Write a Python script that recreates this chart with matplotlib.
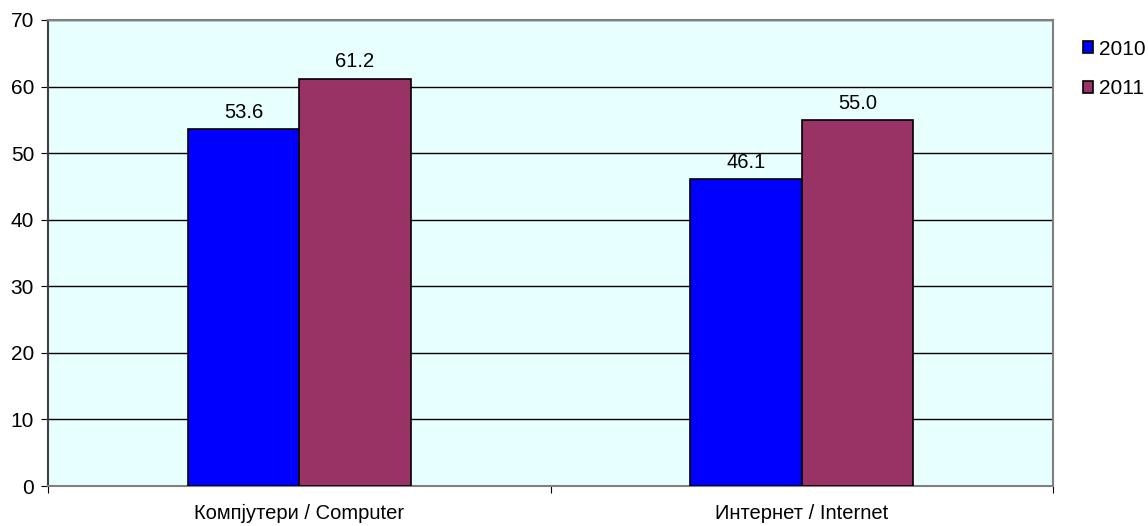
import matplotlib.pyplot as plt
import numpy as np

categories = ['Компјутери / Computer', 'Интернет / Internet']
years = ['2010', '2011']
vals_2010 = [53.6, 46.1]
vals_2011 = [61.2, 55.0]
colors = ['#0000FF', '#993366']

plt.rcParams['font.family'] = ['Liberation Sans', 'DejaVu Sans']

fig = plt.figure(figsize=(11.48, 5.26), dpi=100)
ax = fig.add_axes([0.0418, 0.076, 0.8755, 0.886])
ax.set_facecolor('#E8FFFF')

x = np.arange(len(categories))
w = 0.222
b1 = ax.bar(x - w / 2, vals_2010, w, color=colors[0], edgecolor='black', linewidth=1.2, label=years[0], zorder=3)
b2 = ax.bar(x + w / 2, vals_2011, w, color=colors[1], edgecolor='black', linewidth=1.2, label=years[1], zorder=3)

for bars, vals in ((b1, vals_2010), (b2, vals_2011)):
    for r, v in zip(bars, vals):
        ax.text(r.get_x() + r.get_width() / 2, v + 2.5, f'{v:.1f}', ha='center', va='center', fontsize=14.5)

ax.set_ylim(0, 70)
ax.set_xlim(-0.5, 1.5)
ax.set_yticks(range(0, 71, 10))
ax.yaxis.grid(True, color='black', linewidth=1)
ax.set_axisbelow(True)

# ticks at category boundaries, labels at centres
ax.set_xticks([-0.5, 0.5, 1.5])
ax.set_xticklabels([])
ax.set_xticks(x, minor=True)
ax.set_xticklabels(categories, minor=True, fontsize=14.5)
ax.tick_params(axis='x', which='minor', length=0, pad=13)
ax.tick_params(axis='x', which='major', length=5, color='black')
ax.tick_params(axis='y', length=5, labelsize=15, pad=5)

for s in ['top', 'right']:
    ax.spines[s].set_color('#808080')
    ax.spines[s].set_linewidth(1.5)
ax.spines['left'].set_color('#404040')
ax.spines['left'].set_linewidth(1.5)
ax.spines['bottom'].set_color('#808080')
ax.spines['bottom'].set_linewidth(1.5)

ax.legend(loc='upper left', bbox_to_anchor=(1.021, 0.976), frameon=False, fontsize=15,
          handlelength=0.5, handleheight=0.5, handletextpad=0.3, labelspacing=1.0,
          borderaxespad=0)

fig.savefig('out.png', dpi=100)
